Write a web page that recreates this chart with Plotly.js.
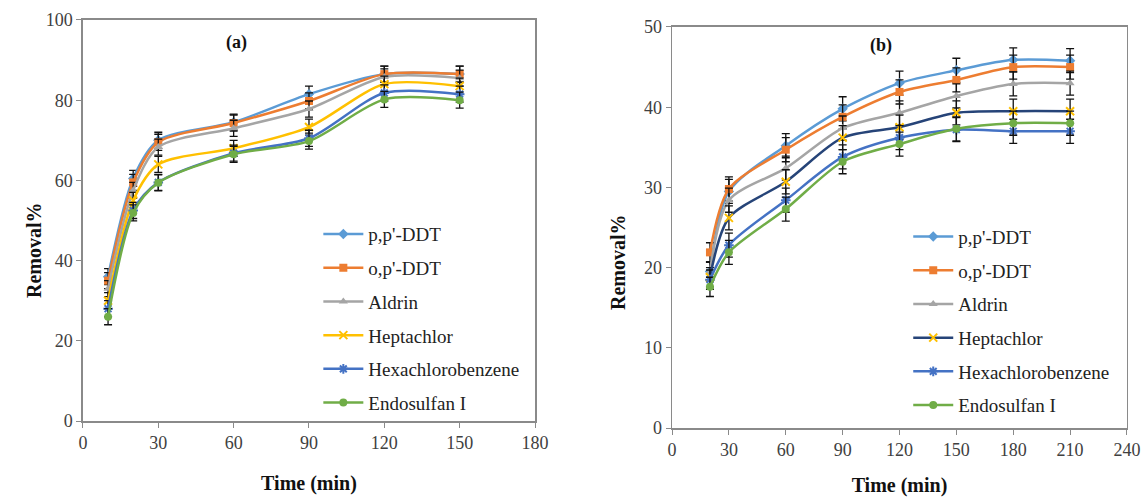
<!DOCTYPE html>
<html>
<head>
<meta charset="utf-8">
<script src="https://cdn.plot.ly/plotly-3.0.1.min.js"></script>
<style>html,body{margin:0;padding:0;background:#fff;}#chart{width:1141px;height:497px;}</style>
</head>
<body>
<div id="chart"></div>
<script>
// ---- Data (a) ----
var timeA = [10, 20, 30, 60, 90, 120, 150];
var ppDDT_A = [36, 60.5, 70, 74.5, 81.5, 86.5, 86.5];
var opDDT_A = [35, 59.5, 69.5, 74.3, 79.8, 86.5, 86.5];
var aldrin_A = [33, 57.5, 68.3, 73, 77.8, 85.8, 85.5];
var heptachlor_A = [30, 55, 64, 68, 73.3, 84, 83.5];
var hcb_A = [28, 52.5, 59.5, 66.8, 70.5, 81.8, 81.5];
var endosulfan_A = [26, 51.9, 59.4, 66.5, 69.8, 80.2, 80];
var errA = [2, 2, 2, 2, 2, 2, 2];

// ---- Data (b) ----
var timeB = [20, 30, 60, 90, 120, 150, 180, 210];
var ppDDT_B = [19.5, 29.5, 35.2, 39.8, 43.0, 44.6, 45.9, 45.8];
var opDDT_B = [21.9, 29.8, 34.7, 38.8, 41.9, 43.4, 45.0, 45.0];
var aldrin_B = [19.5, 28.4, 32.4, 37.4, 39.3, 41.4, 42.9, 43.0];
var heptachlor_B = [18.8, 26.2, 30.7, 36.2, 37.5, 39.3, 39.5, 39.5];
var hcb_B = [18.5, 22.8, 28.4, 33.8, 36.2, 37.2, 37.0, 37.0];
var endosulfan_B = [17.6, 21.9, 27.3, 33.2, 35.4, 37.3, 38.0, 38.0];
var errB = [1.2, 1.5, 1.5, 1.5, 1.5, 1.5, 1.5, 1.5];

var names = ["p,p'-DDT", "o,p'-DDT", "Aldrin", "Heptachlor", "Hexachlorobenzene", "Endosulfan I"];

var SERIF = "Liberation Serif, Times New Roman, serif";

var stylesA = [
  {line: '#5B9BD5', marker: '#5B9BD5', symbol: 'diamond', size: 8},
  {line: '#ED7D31', marker: '#ED7D31', symbol: 'square', size: 8},
  {line: '#A5A5A5', marker: '#A5A5A5', symbol: 'triangle-up', size: 8},
  {line: '#FFC000', marker: '#FFC000', symbol: 'x-thin-open', size: 8},
  {line: '#4472C4', marker: '#4472C4', symbol: 'asterisk-open', size: 8},
  {line: '#70AD47', marker: '#70AD47', symbol: 'circle', size: 8}
];
var stylesB = [
  {line: '#5B9BD5', marker: '#5B9BD5', symbol: 'diamond', size: 8},
  {line: '#ED7D31', marker: '#ED7D31', symbol: 'square', size: 8},
  {line: '#A5A5A5', marker: '#A5A5A5', symbol: 'triangle-up', size: 8},
  {line: '#264478', marker: '#FFC000', symbol: 'x-thin-open', size: 8},
  {line: '#4472C4', marker: '#4472C4', symbol: 'asterisk-open', size: 8},
  {line: '#70AD47', marker: '#70AD47', symbol: 'circle', size: 8}
];

var seriesA = [ppDDT_A, opDDT_A, aldrin_A, heptachlor_A, hcb_A, endosulfan_A];
var seriesB = [ppDDT_B, opDDT_B, aldrin_B, heptachlor_B, hcb_B, endosulfan_B];

function mk(x, y, err, st, name, xa, ya, leg, grp) {
  var open = st.symbol.indexOf('open') >= 0;
  return {
    type: 'scatter', mode: 'lines+markers', x: x, y: y, name: name,
    xaxis: xa, yaxis: ya, legend: leg, legendgroup: grp,
    line: {color: st.line, width: 2.5, shape: 'spline', smoothing: 0.8},
    marker: {symbol: st.symbol, size: st.size, color: st.marker,
             line: {color: st.marker, width: open ? 2 : 0}},
    error_y: {type: 'data', array: err, visible: true, color: '#111', thickness: 1.3, width: 4}
  };
}

var traces = [];
for (var i = 0; i < 6; i++) traces.push(mk(timeA, seriesA[i], errA, stylesA[i], names[i], 'x', 'y', 'legend', 'a' + i));
for (var j = 0; j < 6; j++) traces.push(mk(timeB, seriesB[j], errB, stylesB[j], names[j], 'x2', 'y2', 'legend2', 'b' + j));

var tickfont = {family: SERIF, size: 18, color: '#404040'};
var titlefont = {family: SERIF, size: 20, color: '#111'};
function ax(extra) {
  var base = {showline: true, mirror: true, linecolor: '#8a8a8a', linewidth: 1.5,
    ticks: 'outside', ticklen: 5, tickcolor: '#8a8a8a', tickwidth: 1,
    showgrid: false, zeroline: false, tickfont: tickfont, fixedrange: true};
  for (var k in extra) base[k] = extra[k];
  return base;
}
var legendBase = function (x, y) {
  return {x: x, y: y, xanchor: 'left', yanchor: 'top', traceorder: 'grouped', tracegroupgap: 6,
    font: {family: SERIF, size: 19, color: '#222'}, bgcolor: 'rgba(0,0,0,0)', itemwidth: 40};
};

var layout = {
  width: 1141, height: 497,
  margin: {l: 0, r: 0, t: 0, b: 0},
  paper_bgcolor: '#fff', plot_bgcolor: '#fff',
  showlegend: true,
  xaxis: ax({domain: [0.0727, 0.4689], range: [0, 180], dtick: 30, tick0: 0, anchor: 'y',
    title: {text: '<b>Time (min)</b>', font: titlefont, standoff: 24}}),
  yaxis: ax({domain: [0.1529, 0.9598], range: [0, 100], dtick: 20, tick0: 0, anchor: 'x'}),
  xaxis2: ax({domain: [0.589, 0.9877], range: [0, 240], dtick: 30, tick0: 0, anchor: 'y2',
    title: {text: '<b>Time (min)</b>', font: titlefont, standoff: 24}}),
  yaxis2: ax({domain: [0.1388, 0.9457], range: [0, 50], dtick: 10, tick0: 0, anchor: 'x2'}),
  legend: legendBase(0.279, 0.567),
  legend2: legendBase(0.796, 0.562),
  annotations: [
    {text: '<b>(a)</b>', xref: 'x domain', yref: 'y domain', x: 0.34, y: 0.975, showarrow: false,
     font: {family: SERIF, size: 18, color: '#111'}},
    {text: '<b>(b)</b>', xref: 'x2 domain', yref: 'y2 domain', x: 0.46, y: 0.985, showarrow: false,
     font: {family: SERIF, size: 18, color: '#111'}},
    {text: '<b>Removal%</b>', xref: 'paper', yref: 'paper', x: 21 / 1141, y: 1 - 250 / 497,
     textangle: -90, showarrow: false, font: titlefont},
    {text: '<b>Removal%</b>', xref: 'paper', yref: 'paper', x: 618 / 1141, y: 1 - 262 / 497,
     textangle: -90, showarrow: false, font: titlefont}
  ]
};

Plotly.newPlot('chart', traces, layout, {displayModeBar: false, staticPlot: true});
</script>
</body>
</html>
